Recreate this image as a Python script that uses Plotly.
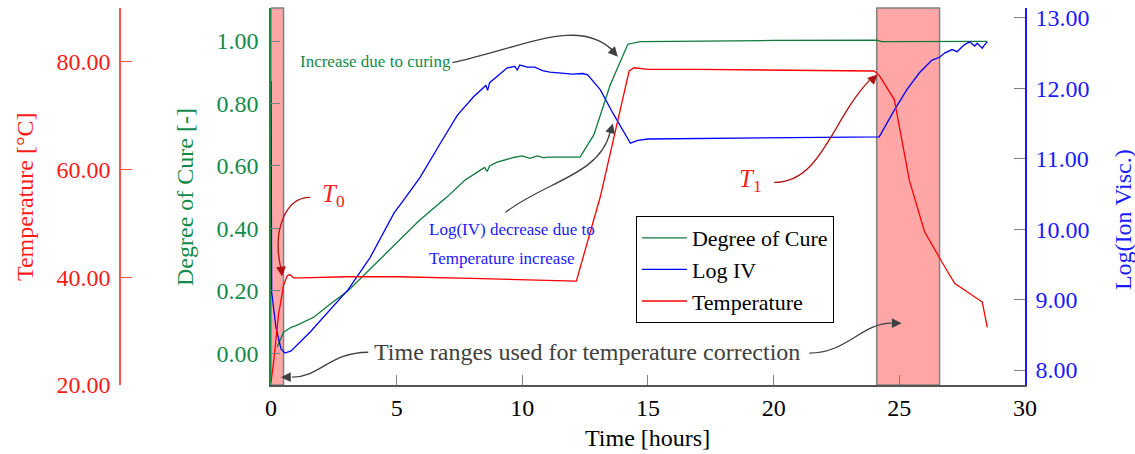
import plotly.graph_objects as go

# ---------------- data ----------------
temp_t = [0.0, 0.1, 0.3, 0.5, 0.65, 0.75, 0.9, 1.2, 3.0, 5.0, 8.0, 12.0, 12.15,
          13.1, 14.25, 14.45, 15.0, 17.0, 20.0, 24.0, 24.2, 24.8, 25.4, 26.0,
          26.7, 27.2, 28.3, 28.5]
temp_v = [20.5, 24.0, 33.0, 38.5, 40.3, 40.5, 39.9, 39.9, 40.1, 40.1, 39.8, 39.2, 39.3,
          54.9, 78.3, 78.9, 78.6, 78.6, 78.5, 78.3, 77.5, 73.0, 58.0, 48.5,
          42.8, 38.9, 35.4, 30.7]

doc_t = [0.25, 0.5, 0.8, 1.0, 1.7, 2.4, 3.07, 4.2, 5.0, 5.9, 7.0, 7.7, 8.3, 8.5,
         8.6, 8.7, 9.0, 9.65, 10.0, 10.3, 10.6, 10.85, 11.0, 12.3, 12.85, 13.5,
         14.2, 14.7, 20.0, 24.1, 24.3, 28.5]
doc_v = [0.02, 0.067, 0.083, 0.088, 0.115, 0.16, 0.20, 0.29, 0.355, 0.425, 0.50,
         0.553, 0.585, 0.595, 0.582, 0.60, 0.612, 0.627, 0.632, 0.624, 0.632, 0.626,
         0.628, 0.628, 0.70, 0.86, 0.99, 0.998, 1.002, 1.003, 0.998, 0.999]

iv_t = [0.0, 0.03, 0.2, 0.4, 0.56, 0.8, 1.56, 2.35, 3.07, 3.95, 4.9, 5.27, 5.94,
        6.74, 7.42, 8.06, 8.55, 8.62, 8.7, 9.1, 9.4, 9.7, 9.8, 9.9, 10.2, 10.5,
        10.8, 11.1, 11.5, 12.0, 12.4, 12.6, 13.1, 13.6, 14.3, 14.6, 15.0, 20.0,
        24.2, 24.8, 25.3, 25.8, 26.3, 26.6, 26.8, 27.1, 27.3, 27.5, 27.6, 27.8,
        28.0, 28.1, 28.3, 28.4, 28.5]
iv_v = [12.1, 9.1, 8.6, 8.3, 8.24, 8.27, 8.54, 8.85, 9.14, 9.6, 10.23, 10.41, 10.74,
        11.22, 11.62, 11.88, 12.04, 11.97, 12.08, 12.2, 12.29, 12.31, 12.26, 12.33, 12.3, 12.3,
        12.25, 12.23, 12.22, 12.2, 12.21, 12.19, 11.98, 11.65, 11.22, 11.26, 11.28, 11.30,
        11.31, 11.69, 11.98, 12.22, 12.40, 12.44, 12.50, 12.55, 12.52, 12.59, 12.62, 12.66,
        12.6, 12.64, 12.57, 12.62, 12.66]

bands = [(0.0, 0.5), (24.1, 26.6)]

x_ticks = [0, 5, 10, 15, 20, 25, 30]
doc_ticks = [0.0, 0.2, 0.4, 0.6, 0.8, 1.0]
temp_ticks = [20, 40, 60, 80]
iv_ticks = [8, 9, 10, 11, 12, 13]

# ---------------- style ----------------
FONT = "Liberation Serif"
GREEN = "#148a4a"
GREEN_LINE = "#0f7a3c"
BLUE = "#1a1aff"
RED = "#ff1a1a"
DARKRED = "#b01010"
GRAY = "#404040"

fig = go.Figure()
fig.add_trace(go.Scatter(x=doc_t, y=doc_v, mode="lines", name="Degree of Cure",
                         line=dict(color=GREEN_LINE, width=1.3), yaxis="y"))
fig.add_trace(go.Scatter(x=iv_t, y=iv_v, mode="lines", name="Log IV",
                         line=dict(color="#0000ff", width=1.3), yaxis="y2"))
fig.add_trace(go.Scatter(x=temp_t, y=temp_v, mode="lines", name="Temperature",
                         line=dict(color="#ff0000", width=1.3), yaxis="y3"))

shapes = []
for b0, b1 in bands:
    shapes.append(dict(type="rect", xref="x", yref="paper", x0=b0, x1=b1, y0=0, y1=1,
                       fillcolor="rgba(255,80,80,0.5)", line=dict(color="#808080", width=1.5),
                       layer="below"))


def curve(p0, p1, p2, p3, color):
    path = "M {},{} C {},{} {},{} {},{}".format(p0[0], p0[1], p1[0], p1[1], p2[0], p2[1], p3[0], p3[1])
    return dict(type="path", xref="x", yref="y", path=path, line=dict(color=color, width=1.3))


shapes += [
    curve((7.22, 0.931), (9.9, 0.975), (12.3, 1.085), (13.68, 0.963), GRAY),
    curve((9.33, 0.451), (10.9, 0.55), (13.1, 0.57), (13.5, 0.71), GRAY),
    curve((1.56, 0.499), (0.55, 0.499), (0.05, 0.39), (0.40, 0.27), DARKRED),
    curve((20.02, 0.547), (21.9, 0.547), (22.3, 0.746), (23.81, 0.874), DARKRED),
    curve((3.87, 0.003), (2.35, 0.003), (1.95, -0.077), (0.84, -0.077), GRAY),
    curve((21.42, 0.0), (22.9, 0.0), (23.5, 0.096), (24.69, 0.096), GRAY),
]


def head(x, y, ax, ay, color):
    return dict(x=x, y=y, xref="x", yref="y", ax=ax, ay=ay, text="", showarrow=True,
                arrowhead=2, arrowsize=1.5, arrowwidth=1.3, arrowcolor=color, standoff=0)


def title(x, y, text, color, angle=0):
    return dict(x=x, y=y, xref="paper", yref="paper", text=text, textangle=angle,
                xanchor="center", yanchor="middle", showarrow=False,
                font=dict(family=FONT, size=24, color=color))


ann = [
    head(13.80, 0.950, -9, -10, GRAY),
    head(13.60, 0.736, -3, 11, GRAY),
    head(0.44, 0.246, -1, -10, DARKRED),
    head(24.13, 0.893, -8, 8, DARKRED),
    head(0.40, -0.077, 11, 0, GRAY),
    head(25.09, 0.096, -11, 0, GRAY),
    dict(x=4.15, y=0.934, xref="x", yref="y", text="Increase due to curing", showarrow=False,
         xanchor="center", yanchor="middle", font=dict(family=FONT, size=17, color=GREEN)),
    dict(x=6.22, y=0.396, xref="x", yref="y", text="Log(IV) decrease due to", showarrow=False,
         xanchor="left", yanchor="middle", font=dict(family=FONT, size=17, color=BLUE)),
    dict(x=6.22, y=0.304, xref="x", yref="y", text="Temperature increase", showarrow=False,
         xanchor="left", yanchor="middle", font=dict(family=FONT, size=17, color=BLUE)),
    dict(x=1.95, y=0.505, xref="x", yref="y", text="<i>T</i><sub>0</sub>", showarrow=False,
         xanchor="left", yanchor="middle", font=dict(family=FONT, size=25, color=RED)),
    dict(x=18.55, y=0.553, xref="x", yref="y", text="<i>T</i><sub>1</sub>", showarrow=False,
         xanchor="left", yanchor="middle", font=dict(family=FONT, size=25, color=RED)),
    dict(x=12.57, y=0.003, xref="x", yref="y", text="Time ranges used for temperature correction",
         showarrow=False, xanchor="center", yanchor="middle",
         font=dict(family=FONT, size=24, color=GRAY)),
    # axis titles
    title(0.0148, 0.4987, "Temperature [°C]", RED, -90),
    title(0.1724, 0.4987, "Degree of Cure [-]", GREEN, -90),
    title(1.0966, 0.4377, "Log(Ion Visc.)", BLUE, -90),
    title(0.6276, -0.1406, "Time [hours]", "black"),
]

fig.update_layout(
    width=1135, height=454,
    margin=dict(l=10, r=110, t=8, b=69),
    paper_bgcolor="white", plot_bgcolor="white",
    font=dict(family=FONT, size=24, color="black"),
    showlegend=True,
    legend=dict(x=0.6167, y=0.4483, xanchor="left", yanchor="top",
                bordercolor="black", borderwidth=1, bgcolor="white",
                font=dict(family=FONT, size=22, color="black"),
                tracegroupgap=0, itemwidth=45),
    shapes=shapes,
    annotations=ann,
    xaxis=dict(domain=[0.2571, 1.0], range=[0, 30], tickvals=x_ticks,
               ticks="inside", ticklen=10, tickcolor="#808080", showgrid=False, zeroline=False,
               showline=True, linecolor="#555555", linewidth=1.5,
               tickfont=dict(family=FONT, size=24, color="black"), automargin=False),
    yaxis=dict(range=[-0.102, 1.106], tickvals=doc_ticks, tickformat=".2f",
               ticks="inside", ticklen=9, tickcolor="#808080", showgrid=False, zeroline=False,
               showline=True, linecolor=GREEN, linewidth=1.5,
               tickfont=dict(family=FONT, size=24, color=GREEN), automargin=False,
               ticklabelstandoff=6),
    yaxis2=dict(range=[7.787, 13.14], tickvals=iv_ticks, tickformat=".2f", overlaying="y",
                side="right", anchor="x",
                ticks="inside", ticklen=11, tickcolor="#808080", showgrid=False, zeroline=False,
                showline=True, linecolor=BLUE, linewidth=1.5,
                tickfont=dict(family=FONT, size=24, color=BLUE), automargin=False,
                ticklabelstandoff=4),
    yaxis3=dict(range=[20, 90], tickvals=temp_ticks, tickformat=".2f", overlaying="y",
                side="left", anchor="free", position=0.1084,
                ticks="inside", ticklen=11, tickcolor="#ff5050", showgrid=False, zeroline=False,
                showline=True, linecolor="#ff5050", linewidth=1.5,
                tickfont=dict(family=FONT, size=24, color=RED), automargin=False,
                ticklabelstandoff=4),
)

fig.write_html("out.html", config={"displayModeBar": False},
               post_script="document.body.style.margin='0';")
